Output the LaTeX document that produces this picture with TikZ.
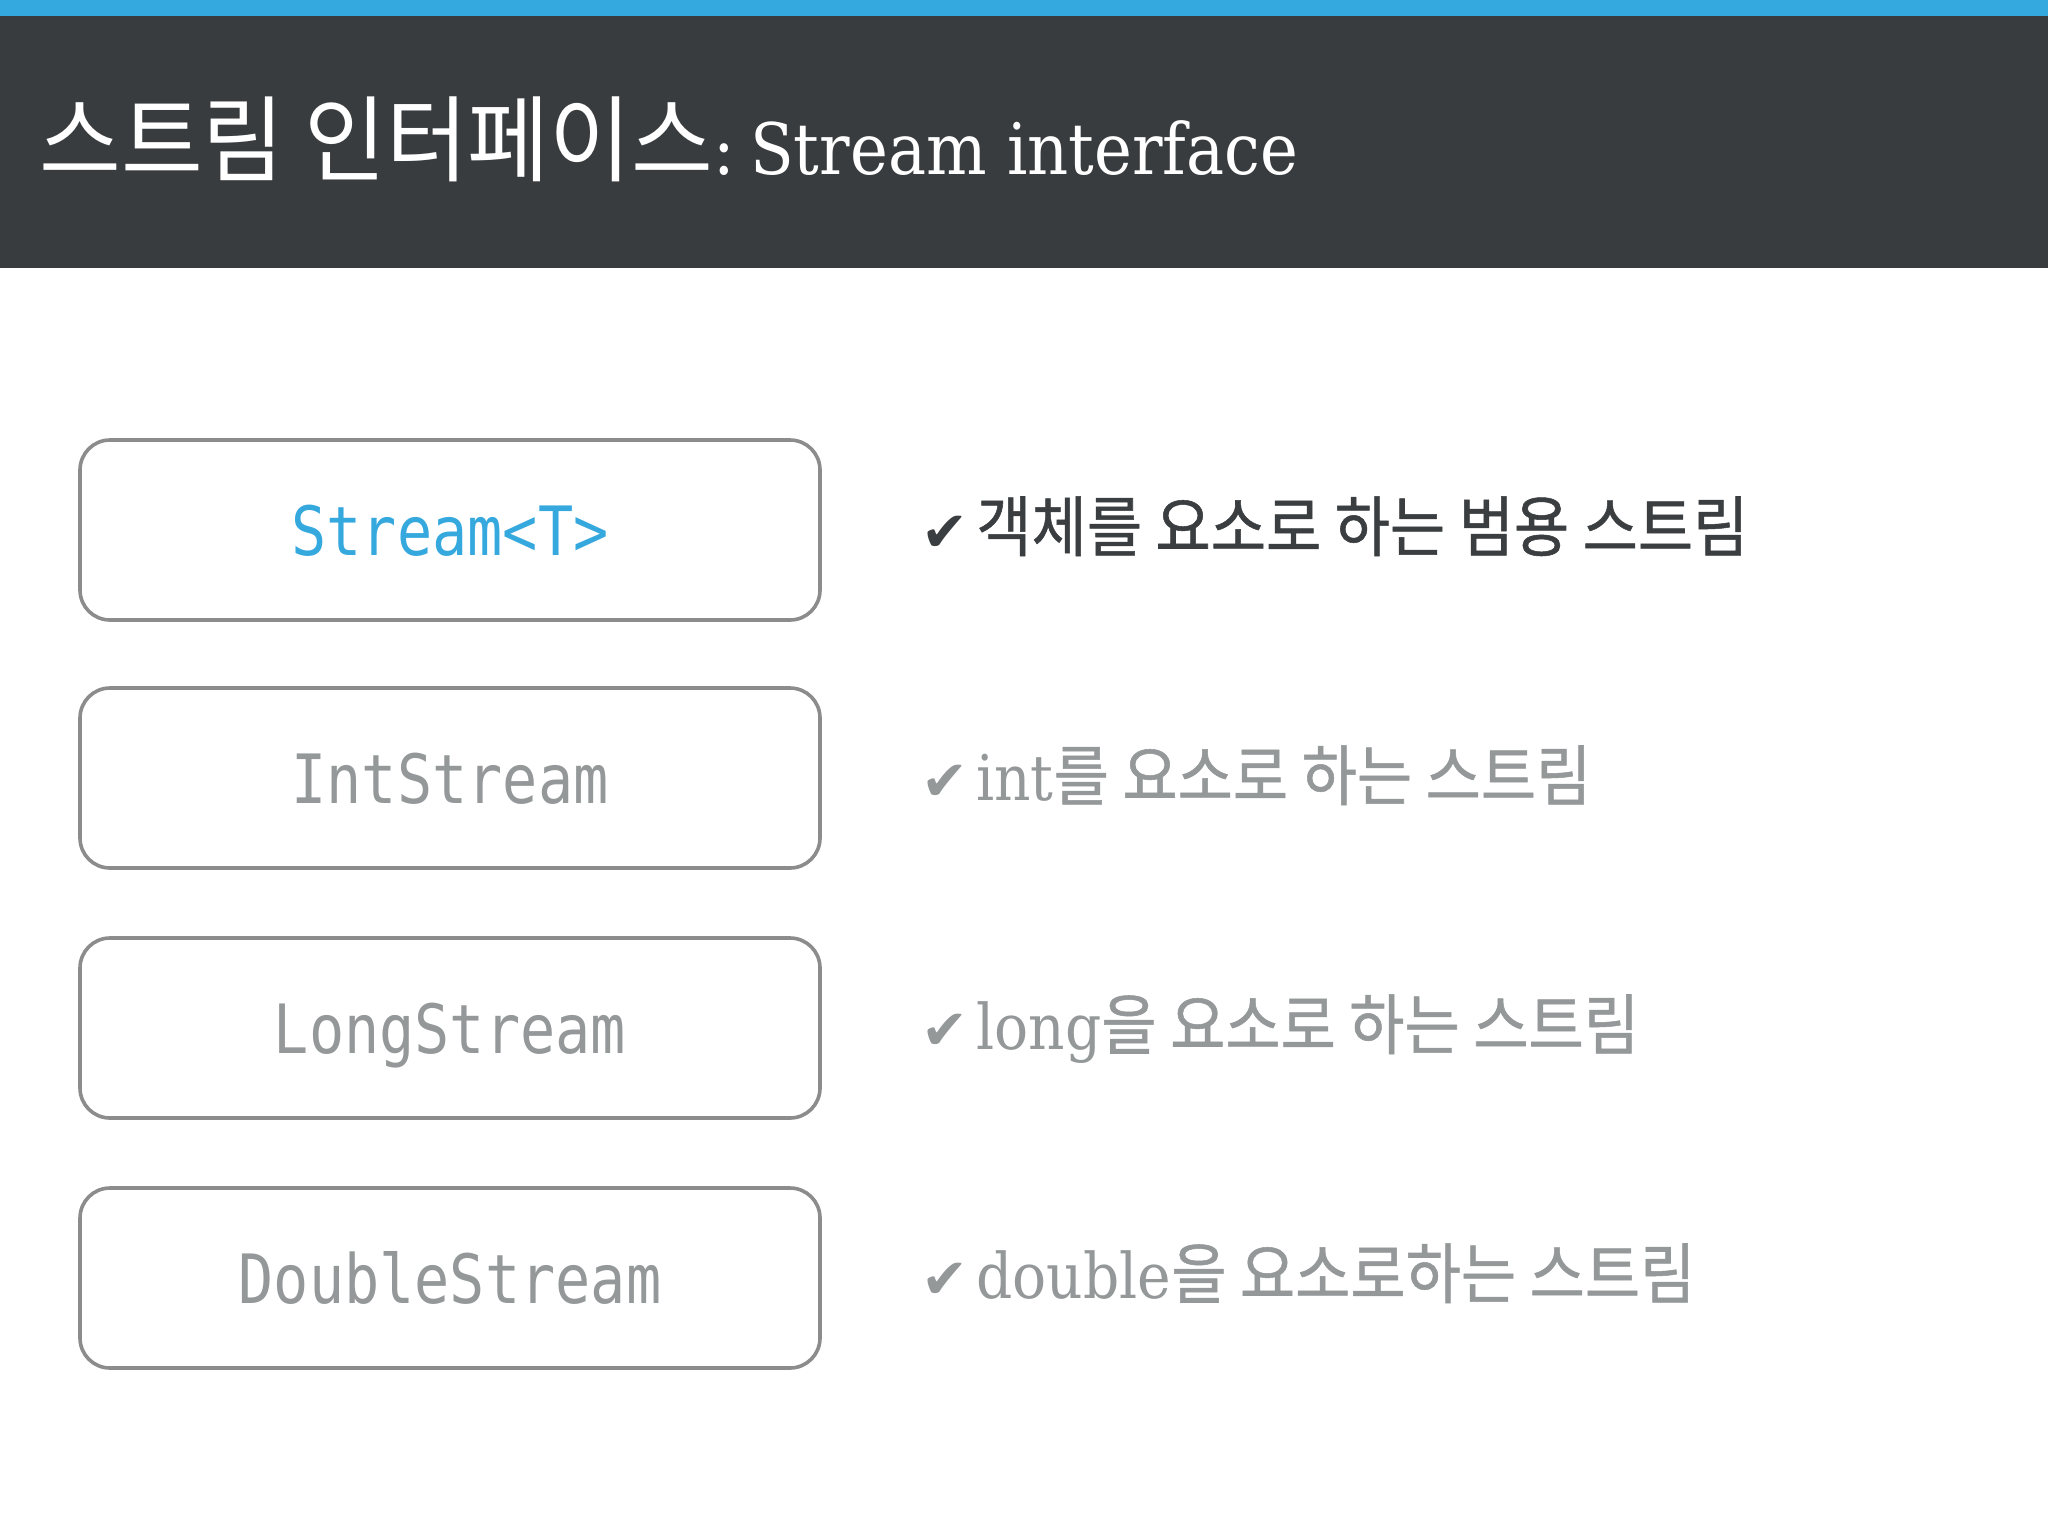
\documentclass[tikz,border=0pt]{standalone}
\usepackage{fontspec}
\newfontfamily\kotitle[FakeStretch=0.945]{Noto Sans CJK KR}
\newfontfamily\korow[FakeStretch=0.91,FakeBold=0.8]{Noto Sans CJK KR}
\newfontfamily\titleserif[FakeStretch=0.9]{DejaVu Serif}
\newfontfamily\boxmono[FakeStretch=0.86]{DejaVu Sans Mono}
\newfontfamily\checkfont{DejaVu Sans}
\definecolor{topblue}{HTML}{33A9E0}
\definecolor{headdark}{HTML}{393C3E}
\definecolor{boxline}{HTML}{8C8C8C}
\definecolor{labelblue}{HTML}{35A8DE}
\definecolor{labelgray}{HTML}{949899}
\definecolor{textdark}{HTML}{3B3E40}
\tikzset{
  streambox/.style={draw=boxline, line width=1.8pt, rounded corners=15pt, fill=white,
    minimum width=370pt, minimum height=90pt, inner sep=0pt,
    text height=25pt, text depth=0pt,
    font=\boxmono\fontsize{34pt}{38pt}\selectfont, text=labelgray},
  rowtext/.style={anchor=base west, inner sep=0pt, text=labelgray},
}
\newcommand{\rowko}[1]{{\korow\fontsize{33pt}{36pt}\selectfont #1}}
\newcommand{\rowlat}[1]{{\titleserif\fontsize{31.5pt}{36pt}\selectfont #1}}
\newcommand{\rowcheck}{{\checkfont\fontsize{28pt}{30pt}\selectfont ✔}\hspace{4pt}}
\begin{document}
\begin{tikzpicture}[x=0.5pt, y=-0.5pt]
  \useasboundingbox (0,0) rectangle (2048,1536);
  \fill[white] (0,0) rectangle (2048,1536);
  \fill[topblue] (0,0) rectangle (2048,16);
  \fill[headdark] (0,16) rectangle (2048,268);
  \node[anchor=base west, inner sep=0pt, text=white] (title) at (39,174)
    {{\kotitle\fontsize{47pt}{50pt}\selectfont 스트림 인터페이스}{\titleserif\fontsize{35.5pt}{40pt}\selectfont:\hspace{0.22em}Stream interface}};

  \node[streambox, text=labelblue] (b1) at (450,530) {Stream<T>};
  \node[streambox] (b2) at (450,778) {IntStream};
  \node[streambox] (b3) at (450,1028) {LongStream};
  \node[streambox] (b4) at (450,1278) {DoubleStream};

  \node[rowtext, text=textdark] (t1) at (921,551)
    {\rowcheck\rowko{객체를 요소로 하는 범용 스트림}};
  \node[rowtext] (t2) at (921,800)
    {\rowcheck\rowlat{int}\rowko{를 요소로 하는 스트림}};
  \node[rowtext] (t3) at (921,1049)
    {\rowcheck\rowlat{long}\rowko{을 요소로 하는 스트림}};
  \node[rowtext] (t4) at (921,1298)
    {\rowcheck\rowlat{double}\rowko{을 요소로하는 스트림}};
\end{tikzpicture}
\end{document}
